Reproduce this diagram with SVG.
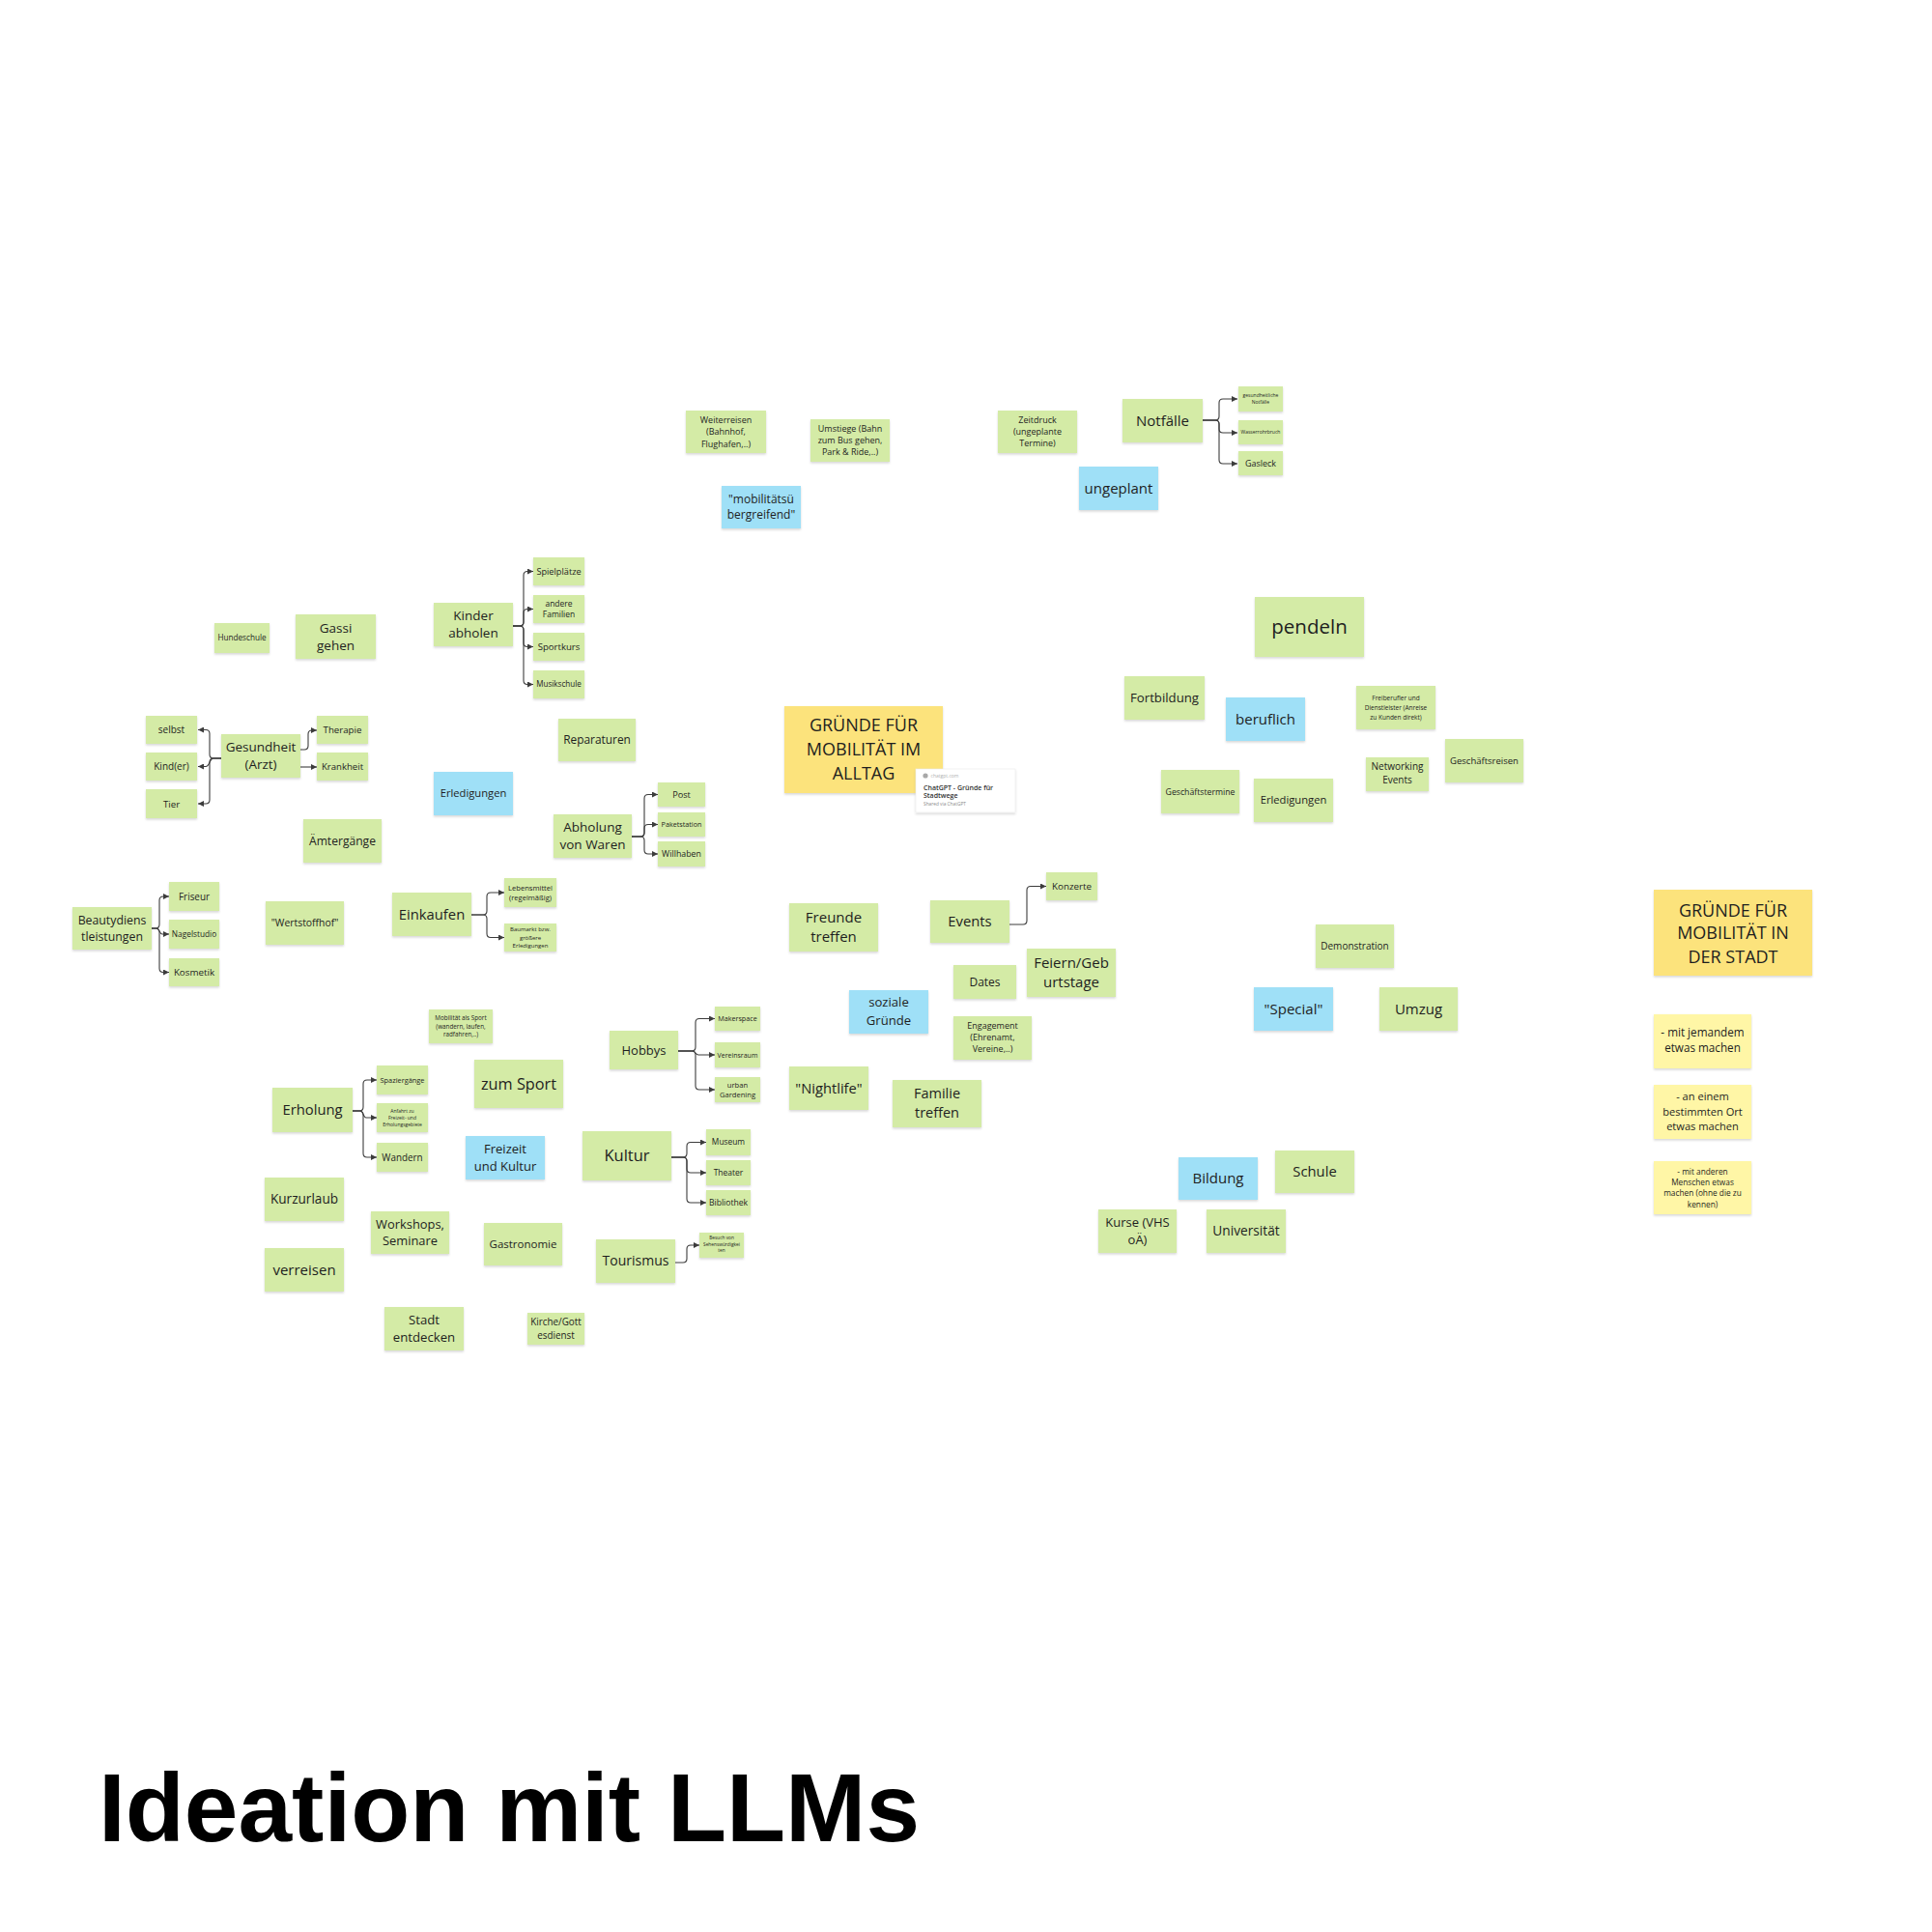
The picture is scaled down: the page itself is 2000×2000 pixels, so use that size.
<svg xmlns="http://www.w3.org/2000/svg" width="2000" height="2000" viewBox="0 0 2000 2000">
<defs>
<filter id="sh" x="-10%" y="-10%" width="120%" height="135%"><feDropShadow dx="0" dy="1.5" stdDeviation="1.2" flood-color="#000" flood-opacity="0.16"/></filter>
<marker id="ah" viewBox="0 0 10 10" refX="10" refY="5" markerWidth="6" markerHeight="6" markerUnits="userSpaceOnUse" orient="auto"><path d="M0,0 L10,5 L0,10 z" fill="#3c3c3c"/></marker>
<style>
.g{fill:#d4eba6;filter:url(#sh)}
.b{fill:#9fe0f7;filter:url(#sh)}
.y{fill:#fce37c;filter:url(#sh)}
.ly{fill:#fff6a6;filter:url(#sh)}
.t{font-family:"Open Sans","Noto Sans","DejaVu Sans",sans-serif;fill:#1e1e1e;text-anchor:middle}
.c{fill:none;stroke:#3c3c3c;stroke-width:1.1;marker-end:url(#ah)}
.cn{fill:none;stroke:#3c3c3c;stroke-width:1.1}
</style>
</defs>
<rect width="2000" height="2000" fill="#ffffff"/>

<g id="connectors">
<path class="c" d="M1245,435 H1258 Q1262,435 1262,431 V417 Q1262,413 1266,413 H1281"/>
<path class="c" d="M1245,435 H1258 Q1262,435 1262,439 V444 Q1262,448 1266,448 H1281"/>
<path class="c" d="M1245,435 H1258 Q1262,435 1262,439 V476 Q1262,480 1266,480 H1281"/>
<path class="c" d="M531,648 H538 Q542,648 542,644 V595.5 Q542,591.5 546,591.5 H552"/>
<path class="c" d="M531,648 H538 Q542,648 542,644 V634.5 Q542,630.5 546,630.5 H552"/>
<path class="c" d="M531,648 H538 Q542,648 542,652 V665.5 Q542,669.5 546,669.5 H552"/>
<path class="c" d="M531,648 H538 Q542,648 542,652 V704.5 Q542,708.5 546,708.5 H552"/>
<path class="c" d="M229,785 H221 Q217,785 217,781 V759.5 Q217,755.5 213,755.5 H205"/>
<path class="c" d="M229,785 H221 C217,785 217,793.5 213,793.5 H205"/>
<path class="c" d="M229,785 H221 Q217,785 217,789 V828 Q217,832 213,832 H205"/>
<path class="c" d="M311,776 H315 Q319,776 319,772 V760 Q319,756 323,756 H328"/>
<path class="c" d="M311,794 H328"/>
<path class="c" d="M654,866 H663 Q667,866 667,862 V826.5 Q667,822.5 671,822.5 H681"/>
<path class="c" d="M654,866 H663 Q667,866 667,862 V857.5 Q667,853.5 671,853.5 H681"/>
<path class="c" d="M654,866 H663 Q667,866 667,870 V880 Q667,884 671,884 H681"/>
<path class="c" d="M157,961 H161 Q165,961 165,957 V932 Q165,928 169,928 H175"/>
<path class="c" d="M157,961 H162 C165,961 165,967 168,967 H175"/>
<path class="c" d="M157,961 H161 Q165,961 165,965 V1002.5 Q165,1006.5 169,1006.5 H175"/>
<path class="c" d="M488,947 H500 Q504,947 504,943 V928 Q504,924 508,924 H522"/>
<path class="c" d="M488,947 H500 Q504,947 504,951 V966.5 Q504,970.5 508,970.5 H522"/>
<path class="c" d="M365,1150 H372 Q376,1150 376,1146 V1122 Q376,1118 380,1118 H390"/>
<path class="c" d="M365,1150 H373 C376,1150 376,1157 379,1157 H390"/>
<path class="c" d="M365,1150 H372 Q376,1150 376,1154 V1194 Q376,1198 380,1198 H390"/>
<path class="c" d="M702,1088 H716 Q720,1088 720,1084 V1058.5 Q720,1054.5 724,1054.5 H740"/>
<path class="c" d="M702,1088 H717 C720,1088 720,1092 723,1092 H740"/>
<path class="c" d="M702,1088 H716 Q720,1088 720,1092 V1124 Q720,1128 724,1128 H740"/>
<path class="c" d="M695,1198 H707 Q711,1198 711,1194 V1186.5 Q711,1182.5 715,1182.5 H731"/>
<path class="c" d="M695,1198 H707 Q711,1198 711,1202 V1210 Q711,1214 715,1214 H731"/>
<path class="c" d="M695,1198 H707 Q711,1198 711,1202 V1241 Q711,1245 715,1245 H731"/>
<path class="c" d="M699,1307 H707 Q711,1307 711,1303 V1293 Q711,1289 715,1289 H724"/>
<path class="c" d="M1045,957 H1059 Q1063,957 1063,953 V921.5 Q1063,917.5 1067,917.5 H1083"/>
</g>

<g id="n-weiterreisen"><rect class="g" x="710" y="425" width="83" height="44"/><text class="t" font-size="9"><tspan x="751.5" y="438">Weiterreisen</tspan><tspan x="751.5" y="450">(Bahnhof,</tspan><tspan x="751.5" y="462.5">Flughafen,..)</tspan></text></g>
<g id="n-umstiege"><rect class="g" x="839" y="434" width="82" height="44"/><text class="t" font-size="9"><tspan x="880" y="447">Umstiege (Bahn</tspan><tspan x="880" y="459">zum Bus gehen,</tspan><tspan x="880" y="471">Park &amp; Ride,..)</tspan></text></g>
<g id="n-mobil"><rect class="b" x="747" y="503" width="82" height="44"/><text class="t" font-size="12"><tspan x="788" y="521">"mobilitätsü</tspan><tspan x="788" y="537">bergreifend"</tspan></text></g>
<g id="n-zeitdruck"><rect class="g" x="1033" y="425" width="82" height="44"/><text class="t" font-size="9"><tspan x="1074" y="438">Zeitdruck</tspan><tspan x="1074" y="450">(ungeplante</tspan><tspan x="1074" y="462">Termine)</tspan></text></g>
<g id="n-notfaelle"><rect class="g" x="1162" y="413" width="83" height="45"/><text class="t" font-size="15" x="1203.5" y="441">Notfälle</text></g>
<g id="n-ungeplant"><rect class="b" x="1117" y="483" width="82" height="45"/><text class="t" font-size="15" x="1158" y="511">ungeplant</text></g>
<g id="n-gesundheitliche"><rect class="g" x="1282" y="400" width="46" height="26"/><text class="t" font-size="5"><tspan x="1305" y="411.3">gesundheitliche</tspan><tspan x="1305" y="418.3">Notfälle</tspan></text></g>
<g id="n-wasser"><rect class="g" x="1282" y="435" width="46" height="25"/><text class="t" font-size="5" x="1305" y="449.3">Wasserrohrbruch</text></g>
<g id="n-gasleck"><rect class="g" x="1282" y="467" width="46" height="25"/><text class="t" font-size="9" x="1305" y="482.7">Gasleck</text></g>

<g id="n-hundeschule"><rect class="g" x="222" y="645" width="57" height="31"/><text class="t" font-size="8.2" x="250.5" y="663.4">Hundeschule</text></g>
<g id="n-gassi"><rect class="g" x="306" y="636" width="83" height="46"/><text class="t" font-size="13.5"><tspan x="347.5" y="655">Gassi</tspan><tspan x="347.5" y="673">gehen</tspan></text></g>
<g id="n-kinder"><rect class="g" x="449" y="624" width="82" height="45"/><text class="t" font-size="13.5"><tspan x="490" y="641.7">Kinder</tspan><tspan x="490" y="659.7">abholen</tspan></text></g>
<g id="n-spielplaetze"><rect class="g" x="552" y="577" width="53" height="29"/><text class="t" font-size="9.2" x="578.5" y="594.8">Spielplätze</text></g>
<g id="n-familien"><rect class="g" x="552" y="616" width="53" height="29"/><text class="t" font-size="8.5"><tspan x="578.5" y="627.7">andere</tspan><tspan x="578.5" y="639.3">Familien</tspan></text></g>
<g id="n-sportkurs"><rect class="g" x="552" y="655" width="53" height="29"/><text class="t" font-size="9.6" x="578.5" y="673">Sportkurs</text></g>
<g id="n-musikschule"><rect class="g" x="552" y="694" width="53" height="29"/><text class="t" font-size="8.1" x="578.5" y="711.3">Musikschule</text></g>
<g id="n-selbst"><rect class="g" x="151" y="741" width="53" height="29"/><text class="t" font-size="10" x="177.5" y="759">selbst</text></g>
<g id="n-kinder-er"><rect class="g" x="151" y="779" width="53" height="29"/><text class="t" font-size="10" x="177.5" y="797">Kind(er)</text></g>
<g id="n-tier"><rect class="g" x="151" y="817" width="53" height="30"/><text class="t" font-size="9.7" x="177.5" y="835.5">Tier</text></g>
<g id="n-gesundheit"><rect class="g" x="229" y="760" width="82" height="45"/><text class="t" font-size="13.5"><tspan x="270" y="778">Gesundheit</tspan><tspan x="270" y="796.4">(Arzt)</tspan></text></g>
<g id="n-therapie"><rect class="g" x="328" y="741" width="53" height="29"/><text class="t" font-size="9.7" x="354.5" y="759">Therapie</text></g>
<g id="n-krankheit"><rect class="g" x="328" y="779" width="53" height="29"/><text class="t" font-size="9.6" x="354.5" y="797">Krankheit</text></g>
<g id="n-erledigungen"><rect class="b" x="449" y="799" width="82" height="45"/><text class="t" font-size="11.2" x="490" y="825.4">Erledigungen</text></g>
<g id="n-reparaturen"><rect class="g" x="578" y="744" width="80" height="44"/><text class="t" font-size="11.9" x="618" y="770.2">Reparaturen</text></g>
<g id="n-aemter"><rect class="g" x="314" y="848" width="81" height="45"/><text class="t" font-size="12.1" x="354.5" y="874.7">Ämtergänge</text></g>
<g id="n-abholung"><rect class="g" x="573" y="843" width="81" height="45"/><text class="t" font-size="13.5"><tspan x="613.5" y="861">Abholung</tspan><tspan x="613.5" y="879.4">von Waren</tspan></text></g>
<g id="n-post"><rect class="g" x="681" y="810" width="49" height="25"/><text class="t" font-size="9.2" x="705.5" y="825.7">Post</text></g>
<g id="n-paket"><rect class="g" x="681" y="841" width="49" height="25"/><text class="t" font-size="7.2" x="705.5" y="856">Paketstation</text></g>
<g id="n-willhaben"><rect class="g" x="681" y="871" width="49" height="26"/><text class="t" font-size="8.8" x="705.5" y="887">Willhaben</text></g>
<g id="n-beauty"><rect class="g" x="75" y="939" width="82" height="44"/><text class="t" font-size="12.3"><tspan x="116" y="956.9">Beautydiens</tspan><tspan x="116" y="973.6">tleistungen</tspan></text></g>
<g id="n-friseur"><rect class="g" x="175" y="913" width="52" height="30"/><text class="t" font-size="9.9" x="201" y="931.5">Friseur</text></g>
<g id="n-nagel"><rect class="g" x="175" y="952" width="52" height="30"/><text class="t" font-size="8.3" x="201" y="970">Nagelstudio</text></g>
<g id="n-kosmetik"><rect class="g" x="175" y="992" width="52" height="29"/><text class="t" font-size="9.8" x="201" y="1010">Kosmetik</text></g>
<g id="n-wertstoff"><rect class="g" x="275" y="933" width="81" height="45"/><text class="t" font-size="10.4" x="315.5" y="959.1">"Wertstoffhof"</text></g>
<g id="n-einkaufen"><rect class="g" x="406" y="924" width="82" height="45"/><text class="t" font-size="14.8" x="447" y="951.7">Einkaufen</text></g>
<g id="n-lebensmittel"><rect class="g" x="522" y="909" width="54" height="30"/><text class="t" font-size="7.6"><tspan x="549" y="921.5">Lebensmittel</tspan><tspan x="549" y="931.8">(regelmäßig)</tspan></text></g>
<g id="n-baumarkt"><rect class="g" x="522" y="956" width="54" height="29"/><text class="t" font-size="6"><tspan x="549" y="964.4">Baumarkt bzw.</tspan><tspan x="549" y="972.6">größere</tspan><tspan x="549" y="980.8">Erledigungen</tspan></text></g>

<g id="n-mobsport"><rect class="g" x="444" y="1045" width="66" height="35"/><text class="t" font-size="6.3"><tspan x="477" y="1056.1">Mobilität als Sport</tspan><tspan x="477" y="1064.7">(wandern, laufen,</tspan><tspan x="477" y="1073.3">radfahren,..)</tspan></text></g>
<g id="n-zumsport"><rect class="g" x="491" y="1097" width="92" height="50"/><text class="t" font-size="16.3" x="537" y="1127.7">zum Sport</text></g>
<g id="n-erholung"><rect class="g" x="282" y="1126" width="83" height="46"/><text class="t" font-size="14.8" x="323.5" y="1154.2">Erholung</text></g>
<g id="n-spazier"><rect class="g" x="390" y="1103" width="53" height="30"/><text class="t" font-size="7.4" x="416.5" y="1120.6">Spaziergänge</text></g>
<g id="n-anfahrt"><rect class="g" x="390" y="1142" width="53" height="30"/><text class="t" font-size="5"><tspan x="416.5" y="1152">Anfahrt zu</tspan><tspan x="416.5" y="1158.8">Freizeit- und</tspan><tspan x="416.5" y="1165.6">Erholungsgebiete</tspan></text></g>
<g id="n-wandern"><rect class="g" x="390" y="1183" width="53" height="30"/><text class="t" font-size="9.9" x="416.5" y="1201.5">Wandern</text></g>
<g id="n-freizeit"><rect class="b" x="482" y="1176" width="82" height="45"/><text class="t" font-size="13"><tspan x="523" y="1193.5">Freizeit</tspan><tspan x="523" y="1212">und Kultur</tspan></text></g>
<g id="n-hobbys"><rect class="g" x="631" y="1067" width="71" height="40"/><text class="t" font-size="13" x="666.5" y="1091.5">Hobbys</text></g>
<g id="n-makerspace"><rect class="g" x="740" y="1042" width="47" height="25"/><text class="t" font-size="7.2" x="763.5" y="1057">Makerspace</text></g>
<g id="n-vereinsraum"><rect class="g" x="740" y="1079" width="47" height="26"/><text class="t" font-size="7" x="763.5" y="1094.5">Vereinsraum</text></g>
<g id="n-urban"><rect class="g" x="740" y="1115" width="47" height="26"/><text class="t" font-size="7.6"><tspan x="763.5" y="1125.5">urban</tspan><tspan x="763.5" y="1135.8">Gardening</tspan></text></g>
<g id="n-kultur"><rect class="g" x="603" y="1171" width="92" height="51"/><text class="t" font-size="16.5" x="649" y="1202.3">Kultur</text></g>
<g id="n-museum"><rect class="g" x="731" y="1169" width="46" height="27"/><text class="t" font-size="8.4" x="754" y="1185.4">Museum</text></g>
<g id="n-theater"><rect class="g" x="731" y="1201" width="46" height="26"/><text class="t" font-size="8.5" x="754" y="1217">Theater</text></g>
<g id="n-bibliothek"><rect class="g" x="731" y="1232" width="46" height="26"/><text class="t" font-size="8.6" x="754" y="1248">Bibliothek</text></g>
<g id="n-kurzurlaub"><rect class="g" x="274" y="1219" width="82" height="45"/><text class="t" font-size="13.6" x="315" y="1246.3">Kurzurlaub</text></g>
<g id="n-verreisen"><rect class="g" x="274" y="1292" width="82" height="45"/><text class="t" font-size="15" x="315" y="1319.8">verreisen</text></g>
<g id="n-workshops"><rect class="g" x="384" y="1254" width="81" height="44"/><text class="t" font-size="12.9"><tspan x="424.5" y="1271.5">Workshops,</tspan><tspan x="424.5" y="1288.5">Seminare</tspan></text></g>
<g id="n-gastro"><rect class="g" x="501" y="1266" width="81" height="44"/><text class="t" font-size="11.5" x="541.5" y="1292">Gastronomie</text></g>
<g id="n-tourismus"><rect class="g" x="617" y="1283" width="82" height="45"/><text class="t" font-size="14" x="658" y="1310.4">Tourismus</text></g>
<g id="n-besuch"><rect class="g" x="724" y="1276" width="46" height="26"/><text class="t" font-size="4.8"><tspan x="747" y="1283.2">Besuch von</tspan><tspan x="747" y="1289.7">Sehenswürdigkei</tspan><tspan x="747" y="1296.2">ten</tspan></text></g>
<g id="n-stadt"><rect class="g" x="398" y="1353" width="82" height="45"/><text class="t" font-size="13.2"><tspan x="439" y="1371">Stadt</tspan><tspan x="439" y="1389">entdecken</tspan></text></g>
<g id="n-kirche"><rect class="g" x="546" y="1359" width="59" height="33"/><text class="t" font-size="9.9"><tspan x="575.5" y="1372.2">Kirche/Gott</tspan><tspan x="575.5" y="1385.7">esdienst</tspan></text></g>

<g id="n-title-alltag"><rect class="y" x="812" y="731" width="164" height="90"/><text class="t" font-size="18"><tspan x="894" y="757">GRÜNDE FÜR</tspan><tspan x="894" y="782">MOBILITÄT IM</tspan><tspan x="894" y="806.5">ALLTAG</tspan></text></g>
<g id="n-chatgpt"><rect x="948" y="796" width="103" height="45" fill="#ffffff" stroke="#ececec" stroke-width="0.6" filter="url(#sh)"/><circle cx="958" cy="803" r="2.6" fill="#a8a8a8"/><text x="963.5" y="805" font-family="Open Sans, sans-serif" font-size="5" fill="#b0b0b0">chatgpt.com</text><text font-family="Open Sans, sans-serif" font-size="7" font-weight="600" fill="#333333"><tspan x="956" y="817.5">ChatGPT - Gründe für</tspan><tspan x="956" y="825.5">Stadtwege</tspan></text><text x="956" y="833.5" font-family="Open Sans, sans-serif" font-size="4.8" fill="#8a8a8a">Shared via ChatGPT</text></g>
<g id="n-freunde"><rect class="g" x="817" y="935" width="92" height="50"/><text class="t" font-size="15"><tspan x="863" y="955">Freunde</tspan><tspan x="863" y="975">treffen</tspan></text></g>
<g id="n-events"><rect class="g" x="963" y="932" width="82" height="44"/><text class="t" font-size="14.8" x="1004" y="959.2">Events</text></g>
<g id="n-konzerte"><rect class="g" x="1083" y="903" width="53" height="29"/><text class="t" font-size="9.8" x="1109.5" y="921">Konzerte</text></g>
<g id="n-dates"><rect class="g" x="987" y="999" width="65" height="35"/><text class="t" font-size="12" x="1019.5" y="1020.7">Dates</text></g>
<g id="n-feiern"><rect class="g" x="1063" y="982" width="92" height="50"/><text class="t" font-size="15"><tspan x="1109" y="1002">Feiern/Geb</tspan><tspan x="1109" y="1022">urtstage</tspan></text></g>
<g id="n-soziale"><rect class="b" x="879" y="1025" width="82" height="45"/><text class="t" font-size="13.1"><tspan x="920" y="1042">soziale</tspan><tspan x="920" y="1060.5">Gründe</tspan></text></g>
<g id="n-engagement"><rect class="g" x="987" y="1052" width="81" height="45"/><text class="t" font-size="9"><tspan x="1027.5" y="1065.2">Engagement</tspan><tspan x="1027.5" y="1077.3">(Ehrenamt,</tspan><tspan x="1027.5" y="1089.4">Vereine,..)</tspan></text></g>
<g id="n-nightlife"><rect class="g" x="817" y="1104" width="82" height="45"/><text class="t" font-size="14.7" x="858" y="1131.6">"Nightlife"</text></g>
<g id="n-familie"><rect class="g" x="924" y="1118" width="92" height="49"/><text class="t" font-size="14.5"><tspan x="970" y="1137.3">Familie</tspan><tspan x="970" y="1157">treffen</tspan></text></g>

<g id="n-pendeln"><rect class="g" x="1299" y="618" width="113" height="62"/><text class="t" font-size="20.5" x="1355.5" y="656.2">pendeln</text></g>
<g id="n-fortbildung"><rect class="g" x="1164" y="700" width="83" height="45"/><text class="t" font-size="13.2" x="1205.5" y="727.1">Fortbildung</text></g>
<g id="n-beruflich"><rect class="b" x="1269" y="722" width="82" height="45"/><text class="t" font-size="15" x="1310" y="749.8">beruflich</text></g>
<g id="n-freiberufler"><rect class="g" x="1404" y="710" width="82" height="45"/><text class="t" font-size="6.5"><tspan x="1445" y="725.3">Freiberufler und</tspan><tspan x="1445" y="735">Dienstleister (Anreise</tspan><tspan x="1445" y="744.7">zu Kunden direkt)</tspan></text></g>
<g id="n-geschaeftsreisen"><rect class="g" x="1496" y="765" width="81" height="45"/><text class="t" font-size="9.5" x="1536.5" y="790.8">Geschäftsreisen</text></g>
<g id="n-networking"><rect class="g" x="1414" y="784" width="65" height="35"/><text class="t" font-size="10"><tspan x="1446.5" y="796.8">Networking</tspan><tspan x="1446.5" y="811.3">Events</tspan></text></g>
<g id="n-geschaeftstermine"><rect class="g" x="1202" y="797" width="81" height="45"/><text class="t" font-size="8.7" x="1242.5" y="822.5">Geschäftstermine</text></g>
<g id="n-erledigungen2"><rect class="g" x="1298" y="806" width="82" height="45"/><text class="t" font-size="11.2" x="1339" y="832.4">Erledigungen</text></g>

<g id="n-title-stadt"><rect class="y" x="1712" y="921" width="164" height="89"/><text class="t" font-size="18"><tspan x="1794" y="948.5">GRÜNDE FÜR</tspan><tspan x="1794" y="971.5">MOBILITÄT IN</tspan><tspan x="1794" y="996.5">DER STADT</tspan></text></g>
<g id="n-jemandem"><rect class="ly" x="1712" y="1050" width="101" height="56"/><text class="t" font-size="11.7"><tspan x="1762.5" y="1073">- mit jemandem</tspan><tspan x="1762.5" y="1089">etwas machen</tspan></text></g>
<g id="n-ort"><rect class="ly" x="1712" y="1123" width="101" height="56"/><text class="t" font-size="11.1"><tspan x="1762.5" y="1139">- an einem</tspan><tspan x="1762.5" y="1155">bestimmten Ort</tspan><tspan x="1762.5" y="1170">etwas machen</tspan></text></g>
<g id="n-anderen"><rect class="ly" x="1712" y="1202" width="101" height="55"/><text class="t" font-size="8.3"><tspan x="1762.5" y="1215.6">- mit anderen</tspan><tspan x="1762.5" y="1227">Menschen etwas</tspan><tspan x="1762.5" y="1238.3">machen (ohne die zu</tspan><tspan x="1762.5" y="1249.6">kennen)</tspan></text></g>

<g id="n-demonstration"><rect class="g" x="1362" y="957" width="81" height="45"/><text class="t" font-size="10" x="1402.5" y="983">Demonstration</text></g>
<g id="n-special"><rect class="b" x="1298" y="1022" width="82" height="45"/><text class="t" font-size="15" x="1339" y="1049.8">"Special"</text></g>
<g id="n-umzug"><rect class="g" x="1428" y="1022" width="81" height="45"/><text class="t" font-size="15" x="1468.5" y="1049.8">Umzug</text></g>
<g id="n-bildung"><rect class="b" x="1220" y="1198" width="82" height="44"/><text class="t" font-size="15" x="1261" y="1225.3">Bildung</text></g>
<g id="n-schule"><rect class="g" x="1320" y="1191" width="82" height="44"/><text class="t" font-size="14.8" x="1361" y="1218.2">Schule</text></g>
<g id="n-kurse"><rect class="g" x="1137" y="1252" width="81" height="45"/><text class="t" font-size="13"><tspan x="1177.5" y="1269.5">Kurse (VHS</tspan><tspan x="1177.5" y="1287.5">oÄ)</tspan></text></g>
<g id="n-universitaet"><rect class="g" x="1249" y="1252" width="82" height="45"/><text class="t" font-size="13.7" x="1290" y="1279.3">Universität</text></g>

<text id="title" x="102" y="1906" font-family="Liberation Sans, Arial, sans-serif" font-weight="700" font-size="100" fill="#000000">Ideation mit LLMs</text>
</svg>
